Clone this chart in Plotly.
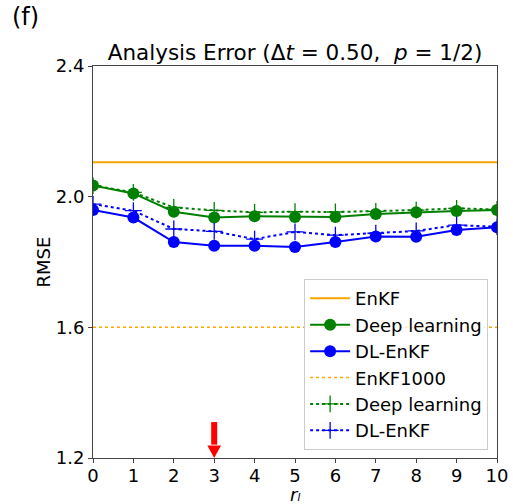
import plotly.graph_objects as go

r_l = list(range(11))
enkf = 2.105
enkf1000 = 1.600
deep_learning = [2.034, 2.010, 1.954, 1.936, 1.940, 1.938, 1.938, 1.947, 1.952, 1.956, 1.959]
dl_enkf = [1.959, 1.936, 1.861, 1.850, 1.850, 1.846, 1.861, 1.878, 1.877, 1.898, 1.906]
deep_learning_1000 = [2.034, 2.013, 1.967, 1.958, 1.952, 1.954, 1.953, 1.955, 1.959, 1.964, 1.961]
dl_enkf_1000 = [1.977, 1.957, 1.901, 1.894, 1.870, 1.892, 1.882, 1.888, 1.895, 1.913, 1.908]
chosen_r = 3
y_ticks = [1.2, 1.6, 2.0, 2.4]

font = "DejaVu Sans"
fig = go.Figure()

fig.add_trace(go.Scatter(x=[r_l[0], r_l[-1]], y=[enkf, enkf], mode="lines",
                         line=dict(color="orange", width=2), name="EnKF"))
fig.add_trace(go.Scatter(x=r_l, y=deep_learning, mode="lines+markers",
                         line=dict(color="green", width=2),
                         marker=dict(symbol="circle", size=12, color="green"),
                         name="Deep learning"))
fig.add_trace(go.Scatter(x=r_l, y=dl_enkf, mode="lines+markers",
                         line=dict(color="blue", width=2),
                         marker=dict(symbol="circle", size=12, color="blue"),
                         name="DL-EnKF"))
fig.add_trace(go.Scatter(x=[r_l[0], r_l[-1]], y=[enkf1000, enkf1000], mode="lines",
                         line=dict(color="orange", width=1.5, dash="dot"), name="EnKF1000"))
fig.add_trace(go.Scatter(x=r_l, y=deep_learning_1000, mode="lines+markers",
                         line=dict(color="green", width=2, dash="dot"),
                         marker=dict(symbol="cross-thin", size=12,
                                     line=dict(color="green", width=1.3)),
                         name="Deep learning"))
fig.add_trace(go.Scatter(x=r_l, y=dl_enkf_1000, mode="lines+markers",
                         line=dict(color="blue", width=2, dash="dot"),
                         marker=dict(symbol="cross-thin", size=12,
                                     line=dict(color="blue", width=1.3)),
                         name="DL-EnKF"))

# red arrow marking the chosen localisation radius
arrow_tail, arrow_neck, arrow_tip, half_head = 1.31, 1.238, 1.2, 0.17
fig.add_shape(type="line", xref="x", yref="y", x0=chosen_r, x1=chosen_r,
              y0=arrow_tail, y1=arrow_neck + 0.003, line=dict(color="red", width=6))
fig.add_shape(type="path", xref="x", yref="y", fillcolor="red", line=dict(width=0),
              path=f"M {chosen_r - half_head} {arrow_neck} L {chosen_r + half_head} {arrow_neck} "
                   f"L {chosen_r} {arrow_tip} Z")

# panel letter
fig.add_annotation(text="(f)", x=-0.205, y=1.165, xref="paper", yref="paper",
                   xanchor="left", yanchor="top", showarrow=False,
                   font=dict(size=24, color="black", family=font))

# x-axis title, placed below the tick labels
fig.add_annotation(text="<i>r\u2097</i>", x=0.5, y=-0.122,
                   xref="paper", yref="paper", xanchor="center", yanchor="bottom",
                   borderpad=0, showarrow=False,
                   font=dict(size=18, color="black", family=font))

axis_common = dict(showline=True, linecolor="#444", linewidth=1, mirror=True,
                   showgrid=False, zeroline=False, ticks="outside", ticklen=4,
                   tickcolor="#444", automargin=False,
                   tickfont=dict(size=18, color="black", family=font))

fig.update_xaxes(range=[0, 10], tickvals=r_l, ticklabelstandoff=-3, **axis_common)
fig.update_yaxes(range=[1.2, 2.4], tickvals=y_ticks, ticktext=[f"{v:.1f}" for v in y_ticks],
                 **axis_common,
                 title=dict(text="RMSE", standoff=0,
                            font=dict(size=18, color="black", family=font)))

fig.update_layout(
    width=513, height=504,
    margin=dict(l=93, r=16, t=66, b=46),
    paper_bgcolor="white", plot_bgcolor="white",
    title=dict(text="Analysis Error (Δ<i>t</i> = 0.50,  <i>p</i> = 1/2)",
               x=0.5, xref="paper", xanchor="center", y=0.88, yanchor="bottom",
               yref="container",
               font=dict(size=21.5, color="black", family=font)),
    legend=dict(x=0.978, y=0.02, xanchor="right", yanchor="bottom",
                bgcolor="rgba(255,255,255,0.85)", bordercolor="#ccc", borderwidth=1,
                font=dict(size=18, color="black", family=font),
                itemwidth=40, tracegroupgap=0),
    showlegend=True,
)

fig.write_html("out.html")
